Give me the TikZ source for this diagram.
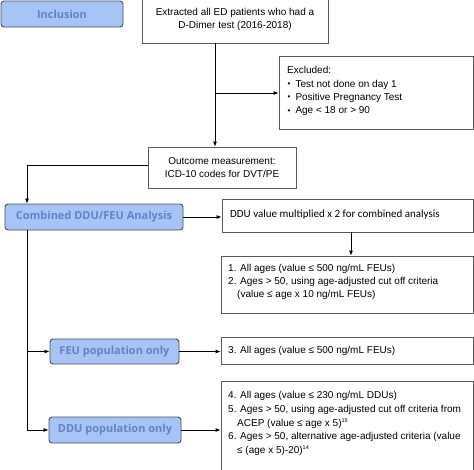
\documentclass[tikz,border=0pt]{standalone}
\usepackage{fontspec}
\setmainfont{Liberation Sans}
\newfontfamily\lblfont{Open Sans}
\newfontfamily\calfont{Carlito}
\usetikzlibrary{arrows.meta}
\definecolor{boxfill}{RGB}{166,196,245}
\definecolor{boxtext}{RGB}{98,132,198}
\definecolor{boxline}{RGB}{70,78,92}
\definecolor{rectline}{RGB}{90,90,90}
\newcommand{\mybul}{\raisebox{0.4pt}{\fontsize{8}{8}\selectfont\textbullet}}
\begin{document}
\begin{tikzpicture}[x=1pt,y=-1pt,
  lbl/.style={draw=boxline, fill=boxfill, rounded corners=3pt, line width=0.9pt, text=boxtext,
    font=\lblfont\bfseries\fontsize{11}{12}\selectfont, inner sep=0pt},
  rbox/.style={draw=rectline, line width=0.8pt, inner sep=0pt},
  txt/.style={font=\fontsize{10}{13.6}\selectfont, align=left, inner sep=0pt},
  ctxt/.style={font=\fontsize{10}{13.5}\selectfont, align=center},
  arr/.style={-{Latex[length=5pt,width=4pt]}, line width=0.8pt},
  ln/.style={line width=0.8pt}]
\useasboundingbox (0,0) rectangle (474,469);

% label boxes
\node[lbl, minimum width=122pt, minimum height=26pt] (incl) at (62,14) {Inclusion};
\node[lbl, minimum width=178pt, minimum height=26pt] (comb) at (94,217) {Combined DDU/FEU Analysis};
\node[lbl, minimum width=129pt, minimum height=25pt] (feu) at (114.5,351.5) {FEU population only};
\node[lbl, minimum width=132pt, minimum height=26pt] (ddu) at (115,430) {DDU population only};

% rectangles
\node[rbox, ctxt, minimum width=186pt, minimum height=47pt] (extr) at (235,19.5)
  {Extracted all ED patients who had a\\D-Dimer test (2016-2018)};
\node[rbox, minimum width=194pt, minimum height=73pt] (excl) at (376,92.5) {};
\node[rbox, ctxt, minimum width=148pt, minimum height=41pt] (outc) at (222,167.5)
  {Outcome measurement:\\ICD-10 codes for DVT/PE};
\node[rbox, minimum width=251pt, minimum height=33pt] (mult) at (347.5,215.5) {};
\node[rbox, minimum width=252pt, minimum height=57pt] (res12) at (347,284.5) {};
\node[rbox, minimum width=252pt, minimum height=27pt] (res3) at (347,350.5) {};
\node[rbox, minimum width=252pt, minimum height=96pt] (res46) at (347,429) {};

% texts
\node[txt, anchor=north west, font=\fontsize{10}{13.3}\selectfont] (excltxt) at (287,66.3)
  {Excluded:\\
   \hspace*{0.5pt}\mybul\hspace{5pt}Test not done on day 1\\
   \hspace*{0.5pt}\mybul\hspace{5pt}Positive Pregnancy Test\\
   \hspace*{0.5pt}\mybul\hspace{5pt}Age < 18 or > 90};
\node[txt, anchor=west, font=\calfont\fontsize{11}{12}\selectfont] (multtxt) at (230,215)
  {DDU value multiplied x 2 for combined analysis};
\node[txt, anchor=north west, font=\fontsize{10}{13.2}\selectfont] (t12) at (228,264)
  {1. All ages (value ≤ 500 ng/mL FEUs)\\
   2. Ages > 50, using age-adjusted cut off criteria\\
   \hspace*{9pt}(value ≤ age x 10 ng/mL FEUs)};
\node[txt, anchor=west] (t3) at (228,350.5) {3. All ages (value ≤ 500 ng/mL FEUs)};
\node[txt, anchor=north west] (t46) at (228,391.5)
  {4. All ages (value ≤ 230 ng/mL DDUs)\\
   5. Ages > 50, using age-adjusted cut off criteria from\\
   \hspace*{9pt}ACEP (value ≤ age x 5)\textsuperscript{\fontsize{5.5}{5.5}\selectfont 15}\\
   6. Ages > 50, alternative age-adjusted criteria (value\\
   \hspace*{9pt}≤ (age x 5)-20)\textsuperscript{\fontsize{5.5}{5.5}\selectfont 14}};

% connectors
\coordinate (j1) at (215,93);
\draw[arr] (extr.south -| j1) -- (outc.north -| j1);
\draw[arr] (j1) -- (excl.west |- j1);
\coordinate (k1) at (27,165);
\draw[arr] (outc.west |- k1) -- (k1) -- (comb.north -| k1);
\draw[arr] (comb.east) -- (mult.west |- comb.east);
\coordinate (m1) at (351,0);
\draw[arr] (mult.south -| m1) -- (res12.north -| m1);
\coordinate (k2) at (27,351.5);
\coordinate (k3) at (27,430);
\draw[ln] (comb.south -| k1) -- (k3);
\draw[arr] (k2) -- (feu.west);
\draw[arr] (k3) -- (ddu.west);
\draw[arr] (feu.east) -- (res3.west |- feu.east);
\draw[arr] (ddu.east) -- (res46.west |- ddu.east);
\end{tikzpicture}
\end{document}
